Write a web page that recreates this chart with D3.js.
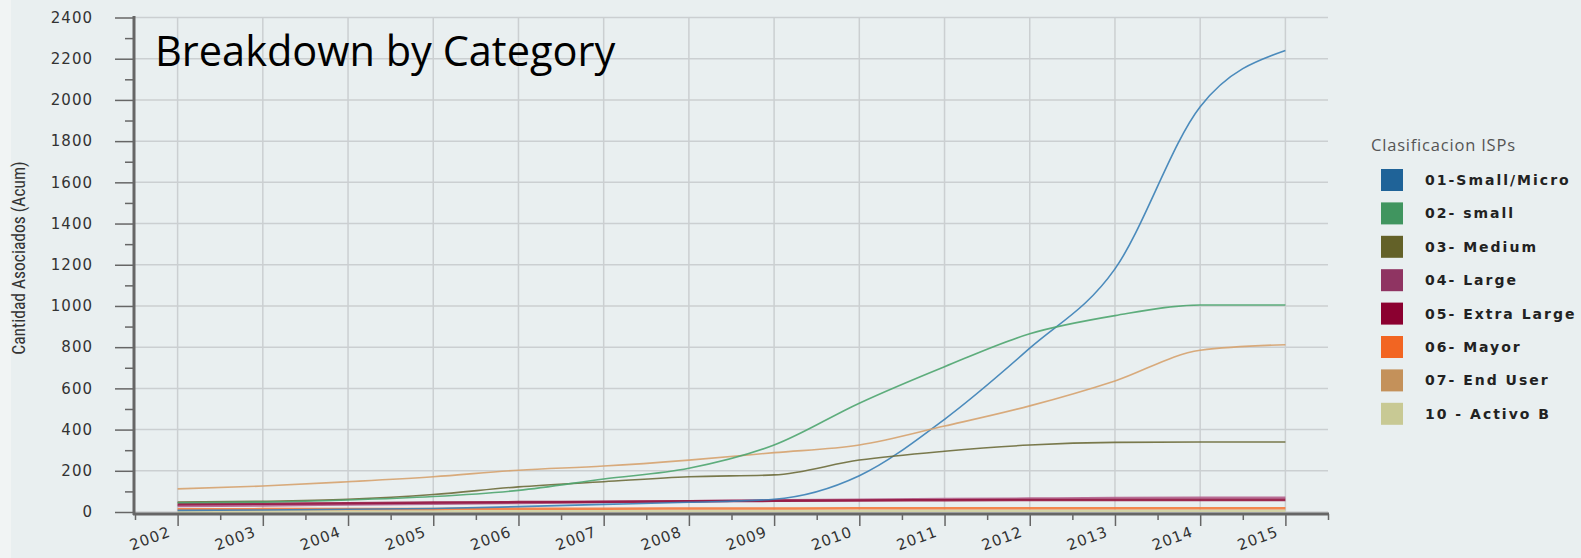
<!DOCTYPE html>
<html lang="es">
<head>
<meta charset="UTF-8">
<title>Breakdown by Category</title>
<script src="https://d3js.org/d3.v7.min.js"></script>
<style>
    html, body {
        margin: 0;
        padding: 0;
        background: #e9eff0;
    }
    svg {
        display: block;
    }
    .tick-label {
        font-family: "DejaVu Sans", sans-serif;
        font-size: 15px;
        letter-spacing: 1px;
        fill: #333;
    }
    .legend-label {
        font-family: "DejaVu Sans", sans-serif;
        font-weight: bold;
        font-size: 14px;
        letter-spacing: 2px;
        fill: #222;
    }
</style>
</head>
<body>
<div id="chart"></div>
<script>
    // data (cumulative count per year)
    var years = [2002, 2003, 2004, 2005, 2006, 2007, 2008, 2009, 2010, 2011, 2012, 2013, 2014, 2015];
    var smallMicro = [8, 10, 13, 17, 26, 37, 47, 62, 176, 450, 795, 1180, 1967, 2240];
    var small = [45, 48, 58, 75, 105, 160, 212, 325, 528, 705, 865, 953, 1005, 1005];
    var medium = [48, 52, 62, 85, 122, 147, 171, 180, 252, 295, 325, 338, 340, 340];
    var large = [29, 32, 36, 40, 44, 48, 52, 56, 60, 63, 65, 68, 69, 69];
    var extraLarge = [37, 40, 43, 46, 48, 50, 52, 54, 56, 57, 58, 58, 58, 58];
    var mayor = [13, 14, 15, 15, 16, 16, 17, 17, 18, 18, 18, 18, 18, 18];
    var endUser = [112, 126, 147, 171, 203, 223, 252, 288, 325, 417, 515, 636, 785, 812];
    var activoB = [3, 3, 4, 4, 4, 5, 5, 5, 5, 6, 6, 6, 6, 6];

    var seriesNames = ["01-Small/Micro", "02- small", "03- Medium", "04- Large",
        "05- Extra Large", "06- Mayor", "07- End User", "10 - Activo B"];
    var seriesColors = ["#1f6398", "#40955f", "#636128", "#8f3462",
        "#8b0030", "#f26522", "#c4915a", "#c8c994"];
    var lineColors = ["#3a7fb6", "#4ea56f", "#6d6c3a", "#b2618c",
        "#94143f", "#f47a3c", "#d6a26e", "#cfd0a0"];
    var yTicks = d3.range(0, 2401, 200);

    var seriesValues = [smallMicro, small, medium, large, extraLarge, mayor, endUser, activoB];
    var series = seriesNames.map(function (name, i) {
        return {
            name: name,
            color: seriesColors[i],
            line: lineColors[i],
            values: years.map(function (yr, j) { return { year: yr, value: seriesValues[i][j] }; })
        };
    });

    var width = 1581, height = 558;

    var svg = d3.select("#chart").append("svg")
        .attr("width", width)
        .attr("height", height);

    svg.append("rect").attr("width", width).attr("height", height).attr("fill", "#e9eff0");
    svg.append("rect").attr("width", 11).attr("height", height).attr("fill", "#f1f4f4");

    var x = d3.scaleLinear().domain([2001.5, 2015.5]).range([135, 1328]);
    var y = d3.scaleLinear().domain([0, 2400]).range([512, 17.5]);

    // grid
    var grid = svg.append("g").attr("class", "grid");
    grid.selectAll("line.h")
        .data(yTicks)
        .enter().append("line")
        .attr("class", "h")
        .attr("x1", x(2001.5)).attr("x2", x(2015.5))
        .attr("y1", function (d) { return y(d); })
        .attr("y2", function (d) { return y(d); })
        .attr("stroke", "#cbcfd1")
        .attr("stroke-width", 1.5);
    grid.selectAll("line.v")
        .data(years)
        .enter().append("line")
        .attr("class", "v")
        .attr("x1", function (d) { return x(d); })
        .attr("x2", function (d) { return x(d); })
        .attr("y1", y(2400)).attr("y2", y(0))
        .attr("stroke", "#cbcfd1")
        .attr("stroke-width", 1.5);

    // lines
    var line = d3.line()
        .x(function (d) { return x(d.year); })
        .y(function (d) { return y(d.value); })
        .curve(d3.curveMonotoneX);

    // draw the small ones first so the big ones sit on top
    var drawOrder = [7, 5, 3, 4, 0, 2, 6, 1];
    svg.append("g").attr("class", "lines")
        .selectAll("path")
        .data(drawOrder.map(function (i) { return series[i]; }))
        .enter().append("path")
        .attr("d", function (d) { return line(d.values); })
        .attr("fill", "none")
        .attr("stroke", function (d) { return d.line; })
        .attr("stroke-width", function (d) { return d.values[13].value < 100 ? 2.5 : 1.6; })
        .attr("stroke-opacity", 0.9);

    // y axis
    var yAxis = d3.axisLeft(y)
        .tickValues(d3.range(0, 2401, 100))
        .tickSize(0)
        .tickFormat("");
    var yg = svg.append("g")
        .attr("transform", "translate(134,0)")
        .call(yAxis);
    yg.select(".domain").remove();
    yg.selectAll(".tick line")
        .attr("x2", function (d) { return d % 200 === 0 ? -19 : -9; })
        .attr("stroke", "#666")
        .attr("stroke-width", 1.5);
    yg.selectAll(".tick text").remove();
    svg.append("g").selectAll("text")
        .data(yTicks)
        .enter().append("text")
        .attr("class", "tick-label")
        .attr("x", 93)
        .attr("y", function (d) { return y(d); })
        .attr("dy", "0.35em")
        .attr("text-anchor", "end")
        .text(function (d) { return d; });
    svg.append("line")
        .attr("x1", 134).attr("x2", 134)
        .attr("y1", 16).attr("y2", 515)
        .attr("stroke", "#666").attr("stroke-width", 3);

    // x axis
    var xTickVals = d3.range(2001.5, 2016, 0.5);
    var xAxis = d3.axisBottom(x)
        .tickValues(xTickVals)
        .tickSize(0)
        .tickFormat("");
    var xg = svg.append("g")
        .attr("transform", "translate(0,514)")
        .call(xAxis);
    xg.select(".domain").remove();
    xg.selectAll(".tick line")
        .attr("y2", function (d) { return d % 1 === 0 ? 12 : 6; })
        .attr("stroke", "#666")
        .attr("stroke-width", 1.5);
    svg.append("line")
        .attr("x1", 133).attr("x2", x(2015.5) + 1)
        .attr("y1", 514).attr("y2", 514)
        .attr("stroke", "#666").attr("stroke-width", 3);
    svg.append("g").selectAll("text")
        .data(years)
        .enter().append("text")
        .attr("class", "tick-label")
        .attr("text-anchor", "end")
        .attr("transform", function (d) { return "translate(" + (x(d) - 6) + ",536) rotate(-20)"; })
        .text(function (d) { return d; });

    // y axis title
    svg.append("text")
        .attr("transform", "translate(25,258) rotate(-90)")
        .attr("text-anchor", "middle")
        .style("font-family", "'Liberation Sans Narrow', 'Roboto Condensed', sans-serif")
        .style("font-size", "17.5px")
        .attr("fill", "#333")
        .text("Cantidad Asociados (Acum)");

    // title
    svg.append("text")
        .attr("x", 155)
        .attr("y", 66)
        .style("font-family", "'Open Sans', sans-serif")
        .style("font-size", "41.5px")
        .attr("fill", "#000")
        .text("Breakdown by Category");

    // legend
    var legend = svg.append("g").attr("transform", "translate(1371,0)");
    legend.append("text")
        .attr("x", 0)
        .attr("y", 151)
        .style("font-family", "'Open Sans', sans-serif")
        .style("font-size", "16.5px")
        .style("letter-spacing", "0.8px")
        .attr("fill", "#555")
        .text("Clasificacion ISPs");

    var item = legend.selectAll("g.item")
        .data(series)
        .enter().append("g")
        .attr("class", "item")
        .attr("transform", function (d, i) { return "translate(10," + (169 + i * 33.4) + ")"; });
    item.append("rect")
        .attr("width", 22)
        .attr("height", 22)
        .attr("fill", function (d) { return d.color; });
    item.append("text")
        .attr("class", "legend-label")
        .attr("x", 44)
        .attr("y", 16)
        .text(function (d) { return d.name; });
</script>
</body>
</html>
